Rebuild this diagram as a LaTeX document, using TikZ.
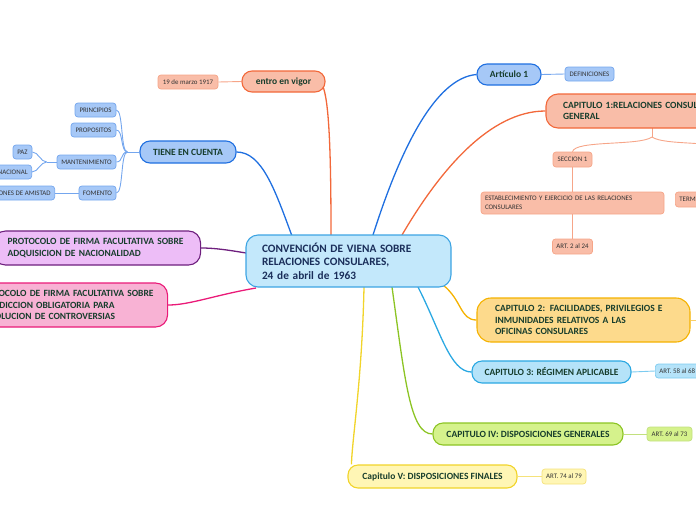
\documentclass[tikz,border=0pt]{standalone}
\usepackage{fontspec}
\setmainfont{Carlito}
\usetikzlibrary{positioning,calc,backgrounds}

\definecolor{txtgreen}{HTML}{173D2C}
\definecolor{txtnavy}{HTML}{1A2E5A}
\definecolor{txtgray}{HTML}{333333}
\definecolor{cenfill}{HTML}{C3E8FB}
\definecolor{cenline}{HTML}{3DA4E3}
\definecolor{salfill}{HTML}{F9BDA8}
\definecolor{salline}{HTML}{F2683A}
\definecolor{sallite}{HTML}{F6A588}
\definecolor{bluefill}{HTML}{A6C8F7}
\definecolor{blueline}{HTML}{1F6FE0}
\definecolor{bluelite}{HTML}{74A6EE}
\definecolor{purfill}{HTML}{EDBDF7}
\definecolor{purline}{HTML}{6E1F7E}
\definecolor{pinkfill}{HTML}{F8B2D4}
\definecolor{pinkline}{HTML}{EA1A78}
\definecolor{ambfill}{HTML}{FDDA8C}
\definecolor{ambline}{HTML}{F5B200}
\definecolor{amblite}{HTML}{F9CF6A}
\definecolor{cyanfill}{HTML}{B5E3F9}
\definecolor{cyanline}{HTML}{2AA8E2}
\definecolor{cyanlite}{HTML}{7CCBF0}
\definecolor{grnfill}{HTML}{D5F28C}
\definecolor{grnline}{HTML}{8CC424}
\definecolor{grnlite}{HTML}{C2E07E}
\definecolor{yelfill}{HTML}{FFF6B5}
\definecolor{yelline}{HTML}{F1D42A}
\definecolor{yellite}{HTML}{F5E27A}

\tikzset{
  bignode/.style={draw, rounded corners=10pt, line width=1.1pt, text=txtgreen,
    font=\bfseries\fontsize{9.5}{11.5}\selectfont, inner sep=0pt},
  smallnode/.style={draw, rounded corners=3pt, line width=0.7pt, text=txtgray,
    font=\fontsize{6.9}{7.5}\selectfont, inner sep=0pt, inner xsep=4pt, minimum height=14pt},
  link/.style={line width=1.3pt},
  sublink/.style={line width=0.9pt},
}

\begin{document}
\begin{tikzpicture}[x=1pt,y=-1pt]
  \useasboundingbox (0,0) rectangle (696,520);
  %central topic
  \node[bignode, fill=cenfill, draw=cenline, text=txtnavy, rounded corners=12pt,
    font=\bfseries\fontsize{11.3}{13.5}\selectfont, minimum width=205pt, minimum height=52pt,
    text width=173pt, align=left] (cvc) at (348.5,261)
    {CONVENCIÓN DE VIENA SOBRE\\RELACIONES CONSULARES,\\24 de abril de 1963};
  %attach points on the central topic
  \coordinate (cVig) at (331,235);
  \coordinate (cTie) at (292,236);
  \coordinate (cArt) at (373,235);
  \coordinate (cCa1) at (402,235);
  \coordinate (cAdq) at (246,253);
  \coordinate (cJur) at (256,288);
  \coordinate (cCa2) at (443,285);
  \coordinate (cCa3) at (418,287);
  \coordinate (cCa4) at (392,287);
  \coordinate (cCa5) at (364,287);

  %left branches
  \node[bignode, fill=salfill, draw=salline, minimum width=83pt, minimum height=21pt] (vigor) at (283.5,81.5) {entro en vigor};
  \node[smallnode, fill=salfill, draw=sallite, minimum width=60pt] (marzo) at (188,82) {19 de marzo 1917};
  \node[bignode, fill=bluefill, draw=blueline, minimum width=96pt, minimum height=22pt] (tiene) at (188,152) {TIENE EN CUENTA};
  %children of TIENE EN CUENTA
  \node[smallnode, fill=bluefill, draw=bluelite, minimum width=41pt] (princ) at (95.5,110) {PRINCIPIOS};
  \node[smallnode, fill=bluefill, draw=bluelite, minimum width=45pt] (propo) at (93.5,130) {PROPOSITOS};
  \node[smallnode, fill=bluefill, draw=bluelite, minimum width=59pt] (mante) at (86.5,162) {MANTENIMIENTO};
  \node[smallnode, fill=bluefill, draw=bluelite, minimum width=37pt] (fomen) at (97.5,193) {FOMENTO};
  \node[smallnode, fill=bluefill, draw=bluelite, minimum width=19pt] (paz) at (22.5,152) {PAZ};
  \node[smallnode, fill=bluefill, draw=bluelite, anchor=east] (inter) at (32,172) {INTERNACIONAL};
  \node[smallnode, fill=bluefill, draw=bluelite, anchor=east] (amist) at (55,193) {RELACIONES DE AMISTAD};
  %protocols
  \node[bignode, fill=purfill, draw=purline, rounded corners=12pt, anchor=west, inner xsep=14pt,
    minimum height=34pt, text width=179pt, align=left] (adqui) at (-7,248)
    {PROTOCOLO DE FIRMA FACULTATIVA SOBRE\\ADQUISICION DE NACIONALIDAD};
  \node[bignode, fill=pinkfill, draw=pinkline, rounded corners=12pt, anchor=west, inner xsep=14pt,
    minimum height=44pt, text width=176pt, align=left] (juris) at (-37,305)
    {PROTOCOLO DE FIRMA FACULTATIVA SOBRE\\JURISDICCION OBLIGATORIA PARA\\LA SOLUCION DE CONTROVERSIAS};

  %right branches
  \node[bignode, fill=bluefill, draw=blueline, minimum width=64pt, minimum height=21pt] (art1) at (509,74.5) {Artículo 1};
  \node[smallnode, fill=bluefill, draw=bluelite, minimum width=49pt] (defin) at (589.5,74) {DEFINICIONES};
  \node[bignode, fill=salfill, draw=salline, rounded corners=12pt, minimum width=224pt, minimum height=34pt,
    inner xsep=17pt, text width=190pt, align=left] (cap1) at (658,111)
    {CAPITULO 1:RELACIONES CONSULARES EN\\GENERAL};
  \coordinate (cap1out) at (652,128);
  \node[smallnode, fill=salfill, draw=sallite, minimum width=39pt, minimum height=15pt] (sec1) at (572.5,159.5) {SECCION 1};
  \node[smallnode, fill=salfill, draw=sallite, minimum width=183pt, minimum height=22pt,
    text width=175pt, align=left, font=\fontsize{6.9}{8.5}\selectfont] (estab) at (572.5,203)
    {ESTABLECIMIENTO Y EJERCICIO DE LAS RELACIONES\\CONSULARES};
  \node[smallnode, fill=salfill, draw=sallite, minimum width=39pt, minimum height=15pt] (art224) at (572.5,246.5) {ART. 2 al 24};
  \node[smallnode, fill=salfill, draw=sallite, minimum height=15pt, anchor=west] (termi) at (675,199.5) {TERMINACION};
  \coordinate (sec2) at (745,152);
  \node[bignode, fill=ambfill, draw=ambline, rounded corners=14pt, minimum width=213pt, minimum height=44pt,
    inner xsep=18pt, text width=177pt, align=left] (cap2) at (583.5,320)
    {CAPITULO 2: FACILIDADES, PRIVILEGIOS E\\INMUNIDADES RELATIVOS A LAS\\OFICINAS CONSULARES};
  \coordinate (cap2kid) at (720,320);
  \node[bignode, fill=cyanfill, draw=cyanline, minimum width=159pt, minimum height=22pt] (cap3) at (551.5,372) {CAPITULO 3: RÉGIMEN APLICABLE};
  \node[smallnode, fill=cyanfill, draw=cyanlite, anchor=west] (art58) at (655,371) {ART. 58 al 68};
  \node[bignode, fill=grnfill, draw=grnline, minimum width=190pt, minimum height=22pt] (cap4) at (528,434) {CAPITULO IV: DISPOSICIONES GENERALES};
  \node[smallnode, fill=grnfill, draw=grnlite, minimum width=45pt] (art69) at (669.5,434) {ART. 69 al 73};
  \node[bignode, fill=yelfill, draw=yelline, minimum width=169pt, minimum height=23pt] (cap5) at (432.5,476.5) {Capitulo V: DISPOSICIONES FINALES};
  \node[smallnode, fill=yelfill, draw=yellite, minimum width=44pt, minimum height=15pt] (art74) at (564,476.5) {ART. 74 al 79};

  \begin{scope}[on background layer]
    %draw main connectors from the central topic
    \draw[link, salline] (cVig) .. controls (331,150) and (329,100) .. ([xshift=-3pt,yshift=-4pt]vigor.east);
    \draw[link, blueline] (cTie) .. controls (275,190) and (262,152) .. (tiene.east);
    \draw[link, blueline] (cArt) .. controls (400,150) and (435,78) .. (art1.west);
    \draw[link, salline] (cCa1) .. controls (440,170) and (490,111) .. (cap1.west);
    \draw[link, purline] (cAdq) .. controls (228,250) and (215,248) .. (adqui.east);
    \draw[link, pinkline] (cJur) .. controls (215,295) and (190,305) .. (juris.east);
    \draw[link, ambline] (cCa2) .. controls (462,300) and (460,320) .. (cap2.west);
    \draw[link, cyanline] (cCa3) .. controls (440,330) and (450,372) .. (cap3.west);
    \draw[link, grnline] (cCa4) .. controls (405,380) and (410,434) .. (cap4.west);
    \draw[link, yelline] (cCa5) .. controls (362,380) and (352,440) .. ([xshift=4pt]cap5.north west);
    %draw sub connectors
    \draw[sublink, sallite] (vigor.west) -- (marzo.east);
    \coordinate (tk) at ([xshift=-12pt]tiene.west);
    \draw[sublink, bluelite] (tiene.west) -- (tk);
    \foreach \kid in {princ,propo,mante,fomen}
      \draw[sublink, bluelite] (tk) .. controls +(-7,0) and +(7,0) .. (\kid.east);
    \coordinate (mk) at ([xshift=-10pt]mante.west);
    \draw[sublink, bluelite] (mante.west) -- (mk);
    \foreach \kid in {paz,inter}
      \draw[sublink, bluelite] (mk) .. controls +(-6,0) and +(6,0) .. (\kid.east);
    \draw[sublink, bluelite] (fomen.west) -- (amist.east);
    \draw[sublink, bluelite] (art1.east) -- (defin.west);
    \coordinate (c1k) at (652,137);
    \draw[sublink, sallite] (cap1out) -- (c1k);
    \draw[sublink, sallite] (c1k) .. controls (640,146) and (575,140) .. (sec1.north);
    \draw[sublink, sallite] (c1k) .. controls (665,146) and (720,140) .. (sec2);
    \draw[sublink, sallite] (sec1.south) -- (estab.north);
    \draw[sublink, sallite] (estab.south) -- (art224.north);
    \draw[sublink, amblite] (cap2.east) -- (cap2kid);
    \draw[sublink, cyanlite] (cap3.east) -- (art58.west);
    \draw[sublink, grnlite] (cap4.east) -- (art69.west);
    \draw[sublink, yellite] (cap5.east) -- (art74.west);
  \end{scope}
\end{tikzpicture}
\end{document}
